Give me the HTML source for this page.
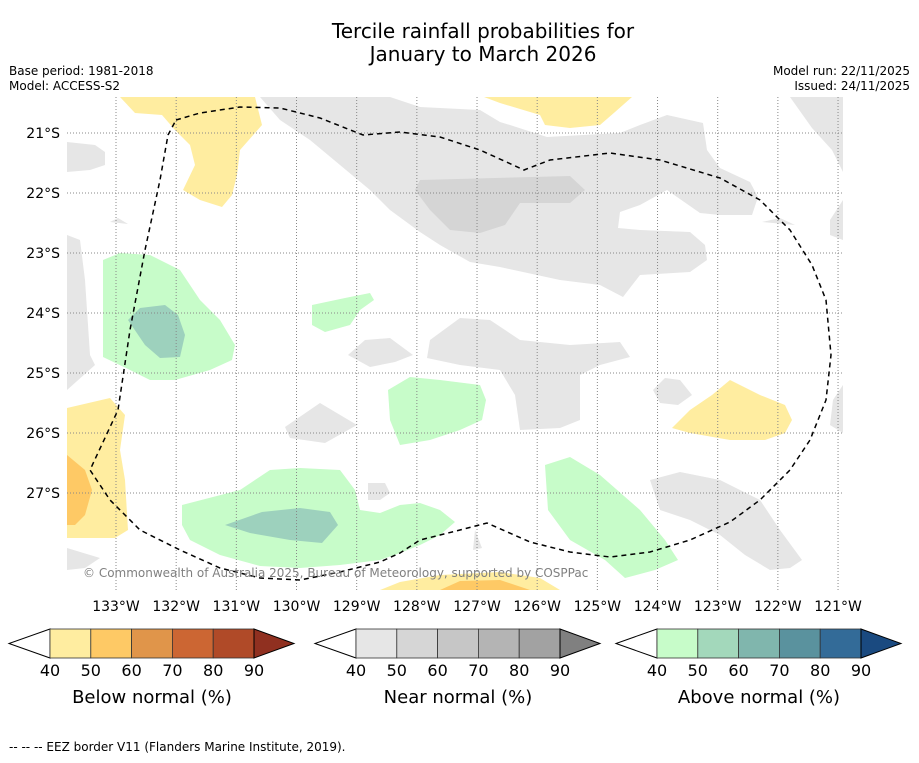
<!DOCTYPE html>
<html><head><meta charset="utf-8"><style>
body{margin:0;background:#fff;font-family:"Liberation Sans","DejaVu Sans",sans-serif}
</style></head><body>
<svg id="s" width="919" height="758" xmlns="http://www.w3.org/2000/svg" font-family="DejaVu Sans, Liberation Sans, sans-serif">
<text x="483" y="38" font-size="20" text-anchor="middle">Tercile rainfall probabilities for</text>
<text x="483" y="61" font-size="20" text-anchor="middle">January to March 2026</text>
<text x="9" y="75" font-size="12">Base period: 1981-2018</text>
<text x="9" y="90" font-size="12">Model: ACCESS-S2</text>
<text x="910" y="75" font-size="12" text-anchor="end">Model run: 22/11/2025</text>
<text x="910" y="90" font-size="12" text-anchor="end">Issued: 24/11/2025</text>
<g>
<g fill="#e6e6e6">
<path d="M260,97 L390,97 L420,107 L480,110 L500,122 L510,125 L547,137 L620,133 L640,125 L667,115 L703,123 L707,150 L720,168 L750,182 L758,197 L752,215 L720,215 L700,213 L667,190 L640,205 L620,212 L618,228 L640,230 L690,232 L705,245 L707,260 L690,272 L640,275 L623,297 L600,285 L560,280 L500,267 L470,262 L440,245 L420,232 L390,210 L370,190 L340,165 L310,140 L280,120 Z"/>
<path d="M790,97 L843,97 L843,172 L832,150 L812,128 Z"/>
<path d="M843,200 L830,220 L830,235 L843,240 Z"/>
<path d="M762,222 L780,218 L795,225 Z"/>
<path d="M67,142 L95,145 L105,152 L105,165 L90,170 L67,172 Z"/>
<path d="M67,235 L80,240 L85,280 L90,355 L95,365 L67,390 Z"/>
<path d="M110,222 L118,218 L128,224 Z"/>
<path d="M430,340 L460,318 L490,320 L520,340 L570,345 L620,342 L630,357 L600,365 L580,375 L580,420 L560,428 L520,430 L515,395 L500,370 L460,365 L427,358 Z"/>
<path d="M348,355 L365,340 L390,338 L413,355 L395,362 L370,367 Z"/>
<path d="M285,427 L320,403 L357,425 L325,443 L290,438 Z"/>
<path d="M653,390 L665,378 L680,380 L692,395 L678,405 L660,403 Z"/>
<path d="M843,385 L833,400 L830,425 L843,433 Z"/>
<path d="M650,480 L680,472 L720,480 L760,500 L780,530 L802,560 L790,568 L770,570 L745,555 L720,535 L690,520 L660,510 Z"/>
<path d="M67,548 L100,558 L85,568 L67,570 Z"/>
<path d="M368,483 L385,483 L390,493 L380,500 L368,500 Z"/>
<path d="M475,530 L482,548 L473,550 Z"/>
<path fill="#d5d5d5" d="M420,180 L570,176 L585,190 L570,203 L520,203 L505,225 L480,233 L450,230 L430,210 L415,190 Z"/>
</g>
<g>
<path fill="#ffeda0" d="M120,97 L255,97 L262,125 L240,150 L237,175 L232,195 L222,207 L200,200 L183,190 L195,165 L190,145 L175,130 L162,115 L135,113 Z"/>
<path fill="#ffeda0" d="M484,97 L632,97 L615,112 L600,125 L570,128 L545,125 L540,115 L500,103 Z"/>
<path fill="#ffeda0" d="M672,428 L690,410 L712,395 L730,380 L760,395 L785,405 L792,420 L785,433 L765,440 L730,440 L690,433 Z"/>
<path fill="#ffeda0" d="M67,408 L110,398 L125,415 L120,450 L125,480 L128,530 L115,538 L67,538 Z"/>
<path fill="#fec965" d="M67,455 L85,470 L92,490 L85,515 L75,525 L67,525 Z"/>
<path fill="#ffeda0" d="M380,590 L400,582 L440,575 L500,572 L540,578 L560,590 Z"/>
<path fill="#fec965" d="M440,590 L460,581 L500,580 L530,590 Z"/>
</g>
<g>
<path fill="#c7fcc9" d="M103,260 L120,253 L150,255 L180,270 L200,300 L220,320 L235,345 L232,360 L210,370 L175,380 L150,380 L130,370 L103,357 Z"/>
<path fill="#9dd1bd" d="M128,320 L140,308 L165,305 L178,315 L185,335 L180,357 L160,358 L145,345 Z"/>
<path fill="#c7fcc9" d="M312,305 L345,298 L370,293 L374,300 L360,310 L350,325 L325,332 L312,325 Z"/>
<path fill="#c7fcc9" d="M388,390 L410,377 L440,380 L480,385 L486,400 L482,420 L460,430 L430,440 L400,445 L390,420 Z"/>
<path fill="#c7fcc9" d="M182,505 L240,490 L270,470 L300,468 L340,470 L355,490 L360,510 L380,513 L400,505 L420,503 L440,510 L455,522 L440,535 L420,545 L400,553 L380,560 L340,565 L300,568 L260,566 L220,555 L190,540 L182,525 Z"/>
<path fill="#9dd1bd" d="M225,525 L262,512 L300,508 L330,512 L338,525 L322,543 L290,540 L250,533 Z"/>
<path fill="#c7fcc9" d="M545,465 L570,457 L600,475 L640,510 L665,540 L678,560 L655,570 L625,578 L605,560 L570,540 L548,510 Z"/>
</g>
<g id="grid" stroke="#888" stroke-width="1" stroke-dasharray="1,2"></g>
<path fill="none" stroke="#000" stroke-width="1.5" stroke-dasharray="5,4" d="M176,120 L200,113 L240,107 L280,108 L320,118 L363,135 L400,132 L440,137 L480,150 L524,170 L550,160 L610,153 L660,160 L720,178 L760,200 L790,230 L812,265 L826,300 L831,355 L826,400 L810,440 L790,470 L760,500 L730,522 L690,540 L650,552 L610,557 L570,552 L530,542 L487,523 L460,530 L420,540 L400,553 L380,562 L340,572 L300,580 L260,578 L220,568 L180,550 L140,530 L110,500 L90,470 L118,410 L130,330 L145,250 L160,180 L168,135 Z"/>
<text x="83" y="577" font-size="12" fill="#808080">© Commonwealth of Australia 2025, Bureau of Meteorology, supported by COSPPac</text>
</g>
<g id="axes" font-size="14"></g>
<g id="bars"></g>
<text x="9" y="751" font-size="12">--  --  -- EEZ border V11 (Flanders Marine Institute, 2019).</text>
</svg>
<script>
const lonTicks=[133,132,131,130,129,128,127,126,125,124,123,122,121];
const latTicks=[21,22,23,24,25,26,27];
const cbLevels=[40,50,60,70,80,90];
const belowColors=["#ffeda0","#fec965","#e0954a","#cc6633","#b04a28"];
const nearColors=["#e6e6e6","#d6d6d6","#c6c6c6","#b4b4b4","#a2a2a2"];
const aboveColors=["#c7fcc9","#a3d8bb","#80b6ad","#5a929e","#336b98"];
const belowArrow="#903020", nearArrow="#808080", aboveArrow="#1a4a80";
const cbTitles=["Below normal (%)","Near normal (%)","Above normal (%)"];
const NS="http://www.w3.org/2000/svg";
const x0=67,x1=843,y0=97,y1=590;
const xs=lon=>116+(133-lon)*60.17;
const ys=lat=>133+(lat-21)*60;
function mk(t,a,p){const e=document.createElementNS(NS,t);for(const k in a)e.setAttribute(k,a[k]);p.appendChild(e);return e;}
const g=document.getElementById('grid'),ax=document.getElementById('axes');
lonTicks.forEach(l=>{
 const ln=mk('line',{x1:xs(l),x2:xs(l),y1:y0,y2:y1},g);
 
 
 const t=mk('text',{x:xs(l),y:611,'text-anchor':'middle'},ax);t.textContent=l+'°W';
 
 
});
latTicks.forEach(l=>{
 const ln=mk('line',{x1:x0,x2:x1,y1:ys(l),y2:ys(l)},g);
 
 
 const t=mk('text',{x:60,y:ys(l)+5,'text-anchor':'end'},ax);t.textContent=l+'°S';
 
 
});
const bars=document.getElementById('bars');
const sets=[[belowColors,belowArrow,50],[nearColors,nearArrow,356],[aboveColors,aboveArrow,657]];
sets.forEach((s,i)=>{
 const [cols,arr,left]=s, w=204, top=629, h=29, right=left+w, mid=top+h/2;
 const grp=mk('g',{},bars);
 
 
 const seg=w/(cbLevels.length-1);
 mk('polygon',{points:`${left},${top} ${left-41},${mid} ${left},${top+h}`,fill:'#fff',stroke:'#000','stroke-width':1},grp);
 cols.forEach((c,j)=>{
  const r=mk('rect',{x:left+j*seg,y:top,width:seg,height:h,fill:c,stroke:'#333','stroke-width':0.8},grp);
  
  
 });
 mk('polygon',{points:`${right},${top} ${right+40},${mid} ${right},${top+h}`,fill:arr,stroke:'#000','stroke-width':1},grp);
 cbLevels.forEach((v,j)=>{
  const t=mk('text',{x:left+j*seg,y:676,'font-size':16,'text-anchor':'middle'},grp);t.textContent=v;
  
  
 });
 const tt=mk('text',{x:left+w/2,y:703,'font-size':18,'text-anchor':'middle'},grp);tt.textContent=cbTitles[i];
 
 
});
</script>
</body></html>
